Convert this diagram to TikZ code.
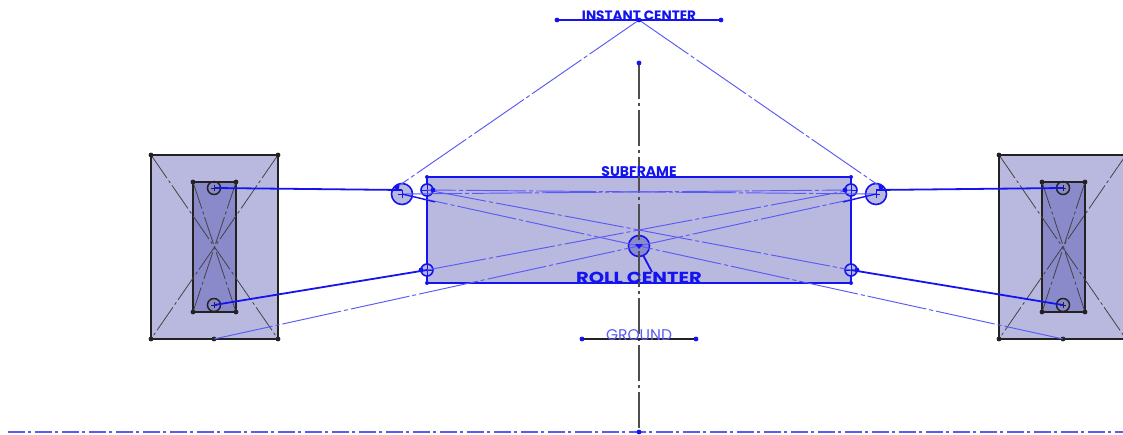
\documentclass[tikz,border=0pt]{standalone}
\usepackage{fontspec}
\setmainfont{Poppins}
\definecolor{skblue}{HTML}{1414F0}
\definecolor{sklight}{HTML}{5A5AF5}
\definecolor{panel}{HTML}{B9B9E0}
\definecolor{panelin}{HTML}{8A8ACB}
\definecolor{ink}{HTML}{222222}
\tikzset{
  x=1pt,y=-1pt,
  outerbox/.style={draw=ink,fill=panel,line width=1.6pt},
  innerbox/.style={draw=ink,fill=panelin,line width=1.6pt},
  subbox/.style={draw=skblue,fill=panel,line width=1.7pt},
  blackcl/.style={draw=ink!85,line width=0.8pt,line cap=butt,dash pattern=on 28pt off 3pt on 3pt off 3pt},
  blackax/.style={draw=ink!80,line width=1.1pt,dash pattern=on 36pt off 4pt on 3pt off 4pt},
  bluecl/.style={draw=sklight,line width=0.95pt,dash pattern=on 60pt off 3pt on 4pt off 3pt},
  basecl/.style={draw=sklight,line width=1.1pt,dash pattern=on 17pt off 3pt on 3pt off 4pt},
  link/.style={draw=skblue,line width=1.8pt},
  dotb/.style={circle,fill=ink,inner sep=0pt,minimum size=4.8pt},
  dotu/.style={circle,fill=skblue,inner sep=0pt,minimum size=4.8pt},
  holeb/.style={circle,draw=ink,line width=1.5pt,inner sep=0pt,minimum size=13pt,
     path picture={\draw[ink,line width=.5pt] ([xshift=-3pt]path picture bounding box.center)--([xshift=3pt]path picture bounding box.center) ([yshift=-3pt]path picture bounding box.center)--([yshift=3pt]path picture bounding box.center);}},
  holeu/.style={circle,draw=skblue,fill=panel,line width=1.6pt,inner sep=0pt,minimum size=12pt,
     path picture={\draw[skblue,line width=.6pt] ([xshift=-6pt]path picture bounding box.center)--([xshift=6pt]path picture bounding box.center) ([yshift=-6pt]path picture bounding box.center)--([yshift=6pt]path picture bounding box.center);}},
  bigu/.style={circle,draw=skblue,fill=panel,line width=1.6pt,inner sep=0pt,minimum size=21pt},
  lab/.style={text=skblue,font=\bfseries,inner sep=0pt},
}
\begin{document}
\begin{tikzpicture}
\useasboundingbox (0,0) rectangle (1123,434);
\clip (0,0) rectangle (1123,434);
\fill[white] (0,0) rectangle (1123,434);
% left wheel
\coordinate (LA) at (151,155); \coordinate (LB) at (278,155);
\coordinate (LC) at (151,339); \coordinate (LD) at (278,339);
\coordinate (La) at (193,182); \coordinate (Lb) at (236,182);
\coordinate (Lc) at (193,312); \coordinate (Ld) at (236,312);
\coordinate (LM) at (214,339);
% right wheel
\coordinate (RA) at (999,155); \coordinate (RB) at (1126,155);
\coordinate (RC) at (999,339); \coordinate (RD) at (1126,339);
\coordinate (Ra) at (1042,182); \coordinate (Rb) at (1085,182);
\coordinate (Rc) at (1042,312); \coordinate (Rd) at (1085,312);
\coordinate (RM) at (1063,339);
% subframe
\coordinate (SA) at (427,177); \coordinate (SB) at (851,177);
\coordinate (SC) at (427,283); \coordinate (SD) at (851,283);
% axes
\coordinate (IC) at (639,20); \coordinate (ICl) at (557,20); \coordinate (ICr) at (721,20);
\coordinate (AT) at (639,63); \coordinate (AB) at (639,432);
\coordinate (Gl) at (582,339); \coordinate (Gr) at (696,339);
\coordinate (BL) at (8,432); \coordinate (BR) at (1123,432);
\coordinate (ULl) at (397,187); \coordinate (ULr) at (881,187);
\coordinate (LK) at (402,190); \coordinate (RK) at (876,190);
\coordinate (LH) at (402,194); \coordinate (RH) at (876,194);
\coordinate (RCt) at (639,246);
\coordinate (RCl) at (643,255);
\coordinate (RCe) at (652,272);

\draw[outerbox] (LA) rectangle (LD);
\draw[outerbox] (RA) rectangle (RD);
\draw[innerbox] (La) rectangle (Ld);
\draw[innerbox] (Ra) rectangle (Rd);
\foreach \w in {L,R}{
  \draw[blackcl] (\w A) -- (\w D);
  \draw[blackcl] (\w B) -- (\w C);
  \draw[blackcl] (\w a) -- (\w d);
  \draw[blackcl] (\w b) -- (\w c);
  \foreach \p in {A,B,C,D,a,b,c,d,M} \node[dotb] at (\w\p) {};
}
\draw[subbox] (SA) rectangle (SD);
\foreach \p in {SA,SB,SC,SD} \node[dotu,minimum size=4pt] at (\p) {};

% holes and joints
\node[holeb] (LU) at (214,188) {};
\node[holeb] (LW) at (214,305) {};
\node[holeb] (RU) at (1063,188) {};
\node[holeb] (RW) at (1063,305) {};
\node[bigu] (LBig) at (402,194) {};
\node[bigu] (RBig) at (876,194) {};
\node[holeu] (SUl) at (427,190) {};
\node[holeu] (SUr) at (851,190) {};
\node[holeu] (SLl) at (427,270) {};
\node[holeu] (SLr) at (851,270) {};
\node[circle,draw=skblue,fill=panelin,line width=1.6pt,inner sep=0pt,minimum size=21pt] (Roll) at (RCt) {};

% centre lines
\draw[blackax] (AT) -- (AB);
\draw[basecl] (BL) -- (BR);
\draw[bluecl] (IC) -- (ULl);
\draw[bluecl] (IC) -- (ULr);
\draw[bluecl] (LM) -- (RH);
\draw[bluecl] (RM) -- (LH);
\draw[bluecl] (SUl.center) -- (SLr.center);
\draw[bluecl] (SLl.center) -- (SUr.center);
\draw[bluecl] (LH) -- (SUr.center);
\draw[bluecl] (RH) -- (SUl.center);

% links
\draw[link] (LU.center) -- (LK);
\draw[link] (RK) -- (RU.center);
\draw[link] (LW.center) -- (SLl.center);
\draw[link] (SLr.center) -- (RW.center);
\draw[skblue,line width=1.2pt] (LH) -- (435,202);
\draw[skblue,line width=1.2pt] (RH) -- (843,202);
\draw[link] (RCl) -- (RCe);

% small marks
\draw[skblue,line width=.5pt] (398,194) -- (406,194) (402,190) -- (402,198);
\draw[skblue,line width=.5pt] (872,194) -- (880,194) (876,190) -- (876,198);
\fill[skblue] (635,244) -- (643,244) -- (639,249) -- cycle;

\draw[skblue,line width=1.4pt] (ICl) -- (ICr);
\draw[ink,line width=1.4pt] (Gl) -- (Gr);
\foreach \p in {ICl,ICr,IC,AT,AB,Gl,Gr,ULl,ULr} \node[dotu] at (\p) {};
\node[dotu] at (433,190) {};
\node[dotu] at (845,190) {};
\node[dotu] at (421,270) {};
\node[dotu] at (857,270) {};

% labels
\node[lab,font=\bfseries\fontsize{13.6}{13.6}\selectfont] (tIC) at (639,16) {INSTANT CENTER};
\node[lab,font=\bfseries\fontsize{14}{14}\selectfont] (tSF) at (639,172) {SUBFRAME};
\node[lab,font=\bfseries\fontsize{19.5}{19.5}\selectfont,yscale=0.82] (tRC) at (639,278) {ROLL CENTER};
\node[lab,text=sklight,font=\fontsize{15.5}{15.5}\selectfont] (tG) at (639,335) {GROUND};
\end{tikzpicture}
\end{document}
